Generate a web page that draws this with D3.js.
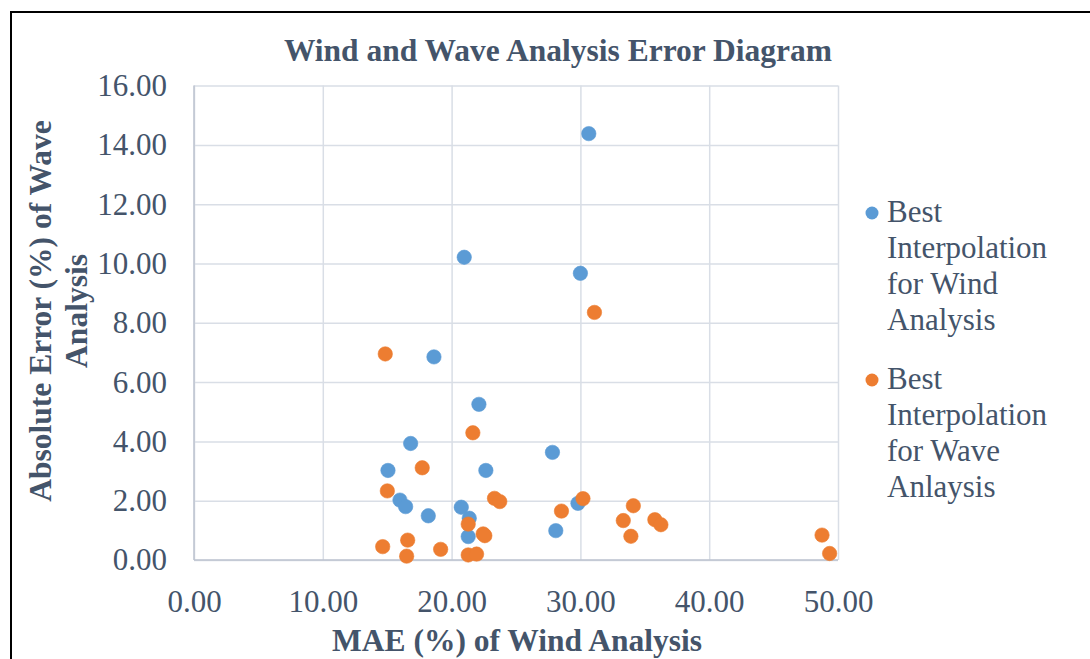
<!DOCTYPE html>
<html>
<head>
<meta charset="utf-8">
<script src="https://cdn.jsdelivr.net/npm/d3@7"></script>
<style>
  html, body { margin: 0; padding: 0; background: #fff; }
  svg { display: block; }
  text { font-family: "Liberation Serif", "Times New Roman", serif; fill: #44546A; }
</style>
</head>
<body>
<svg id="chart" width="1090" height="659"></svg>
<script>
// Best interpolation for wind analysis: MAE of wind (%) vs absolute error of wave (%)
const windMAE = [30.65, 20.98, 30.0, 18.63, 22.12, 16.82, 27.83, 15.06, 22.66, 15.99, 16.43, 18.19, 20.75, 21.37, 21.29, 29.81, 28.09];
const windErr = [14.38, 10.21, 9.67, 6.85, 5.25, 3.93, 3.63, 3.02, 3.02, 2.02, 1.80, 1.49, 1.78, 1.41, 0.79, 1.91, 0.99];

// Best interpolation for wave analysis
const waveMAE = [31.09, 14.85, 21.65, 17.72, 15.01, 23.33, 23.74, 21.29, 22.45, 22.58, 14.65, 16.59, 16.51, 19.15, 21.29, 21.94, 28.53, 30.20, 34.11, 33.33, 33.92, 35.78, 36.25, 48.76, 49.35];
const waveErr = [8.35, 6.95, 4.29, 3.11, 2.33, 2.08, 1.97, 1.21, 0.88, 0.82, 0.45, 0.67, 0.13, 0.36, 0.17, 0.20, 1.65, 2.07, 1.83, 1.33, 0.80, 1.36, 1.19, 0.84, 0.22];

const xTicks = [0, 10, 20, 30, 40, 50];
const yTicks = [0, 2, 4, 6, 8, 10, 12, 14, 16];

const seriesNames = [
  ["Best", "Interpolation", "for Wind", "Analysis"],
  ["Best", "Interpolation", "for Wave", "Anlaysis"]
];
const seriesColors = ["#5B9BD5", "#ED7D31"];

const svg = d3.select("#chart");

// outer frame
svg.append("rect")
  .attr("x", 11).attr("y", 12)
  .attr("width", 1200).attr("height", 800)
  .attr("fill", "#fff")
  .attr("stroke", "#000")
  .attr("stroke-width", 2);

const plot = { left: 194, right: 838, top: 85.6, bottom: 560 };
const W = plot.right - plot.left, H = plot.bottom - plot.top;

const x = d3.scaleLinear().domain([0, 50]).range([plot.left, plot.right]);
const y = d3.scaleLinear().domain([0, 16]).range([plot.bottom, plot.top]);
const fmt = d3.format(".2f");

// horizontal gridlines + y labels
const yAxis = svg.append("g")
  .attr("transform", `translate(${plot.left},0)`)
  .call(d3.axisLeft(y).tickValues(yTicks).tickFormat(fmt).tickSize(-W).tickPadding(27));
yAxis.select(".domain").remove();
yAxis.selectAll(".tick line").attr("stroke", "#D9DEE6").attr("stroke-width", 1.5);
yAxis.selectAll(".tick text")
  .style("font-size", "31px")
  .attr("fill", "#44546A");

// vertical gridlines + x labels
const xAxis = svg.append("g")
  .attr("transform", `translate(0,${plot.bottom})`)
  .call(d3.axisBottom(x).tickValues(xTicks).tickFormat(fmt).tickSize(-H).tickPadding(30));
xAxis.select(".domain").remove();
xAxis.selectAll(".tick line").attr("stroke", "#D9DEE6").attr("stroke-width", 1.5);
xAxis.selectAll(".tick text")
  .style("font-size", "31px")
  .attr("fill", "#44546A");

// axis lines
svg.append("line")
  .attr("x1", plot.left).attr("x2", plot.right)
  .attr("y1", plot.bottom).attr("y2", plot.bottom)
  .attr("stroke", "#BCC3CF").attr("stroke-width", 1.5);
svg.append("line")
  .attr("x1", plot.left).attr("x2", plot.left)
  .attr("y1", plot.top).attr("y2", plot.bottom)
  .attr("stroke", "#BCC3CF").attr("stroke-width", 1.5);

// points
const series = [
  d3.zip(windMAE, windErr),
  d3.zip(waveMAE, waveErr)
];
series.forEach((pts, i) => {
  svg.append("g").selectAll("circle")
    .data(pts)
    .join("circle")
    .attr("cx", d => x(d[0]))
    .attr("cy", d => y(d[1]))
    .attr("r", 7.2)
    .attr("fill", seriesColors[i])
    .attr("stroke", seriesColors[i])
    .attr("stroke-opacity", 0.6)
    .attr("stroke-width", 1);
});

// title
svg.append("text")
  .attr("x", 558).attr("y", 61)
  .attr("text-anchor", "middle")
  .style("font-size", "31.5px").style("font-weight", "bold")
  .text("Wind and Wave Analysis Error Diagram");

// x axis title
svg.append("text")
  .attr("x", 517).attr("y", 651)
  .attr("text-anchor", "middle")
  .style("font-size", "31.5px").style("font-weight", "bold")
  .text("MAE (%) of Wind Analysis");

// y axis title (two lines)
const yTitle = svg.append("text")
  .attr("transform", "translate(51,311) rotate(-90)")
  .attr("text-anchor", "middle")
  .style("font-size", "31.5px").style("font-weight", "bold");
yTitle.append("tspan").attr("x", 0).attr("y", 0).text("Absolute Error (%) of Wave");
yTitle.append("tspan").attr("x", 0).attr("y", 36).text("Analysis");

// legend
const legendTop = [213, 380];
seriesNames.forEach((lines, i) => {
  const g = svg.append("g");
  g.append("circle")
    .attr("cx", 872).attr("cy", legendTop[i])
    .attr("r", 6.5)
    .attr("fill", seriesColors[i]);
  const t = g.append("text")
    .attr("x", 887).attr("y", legendTop[i] + 9)
    .style("font-size", "31px");
  lines.forEach((s, k) => {
    t.append("tspan").attr("x", 887).attr("dy", k === 0 ? 0 : 36).text(s);
  });
});
</script>
</body>
</html>
